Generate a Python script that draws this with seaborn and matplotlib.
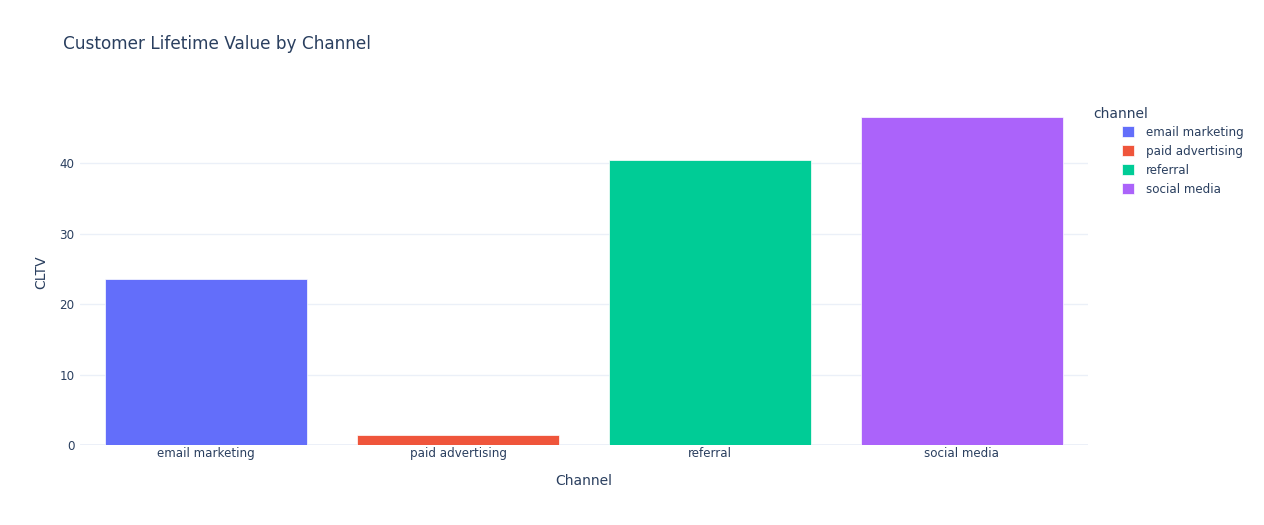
import matplotlib
matplotlib.use("Agg")
import matplotlib.pyplot as plt
import seaborn as sns
import pandas as pd

# values
channels = ['email marketing', 'paid advertising', 'referral', 'social media']
cltv = [23.5, 1.42, 40.5, 46.5]
colors = ['#636efa', '#ef553b', '#00cc96', '#ab63fa']

df = pd.DataFrame({'channel': channels, 'CLTV': cltv})

sns.set_style('white')
plt.rcParams['font.family'] = ['DejaVu Sans']
txt = '#2a3f5f'

fig = plt.figure(figsize=(12.64, 5.25), dpi=100)
ax = fig.add_axes([80/1264, 80/525, 1008/1264, 345/525])

sns.barplot(data=df, x='channel', y='CLTV', hue='channel', palette=colors,
            width=0.8, dodge=False, legend=True, ax=ax, saturation=1,
            edgecolor='white', linewidth=0.5)

ax.set_ylim(0, 48.95)
ax.set_xlim(-0.5, 3.5)
ax.set_yticks([0, 10, 20, 30, 40])
ax.grid(axis='y', color='#ebf0f8', linewidth=1)
ax.set_axisbelow(True)
ax.axhline(0, color='#ebf0f8', linewidth=2, zorder=0)
for s in ax.spines.values():
    s.set_visible(False)
ax.tick_params(axis='y', length=0, colors=txt, labelsize=8.6, pad=4)
ax.tick_params(axis='x', length=0, colors=txt, labelsize=8.6, pad=1.5)
ax.set_xlabel('Channel', color=txt, fontsize=10, labelpad=10)
ax.set_ylabel('CLTV', color=txt, fontsize=10, labelpad=8)

fig.text(63/1264, 1 - 44/525, 'Customer Lifetime Value by Channel',
         color=txt, fontsize=12.2, va='center', ha='left')

# legend title placed on its own, items indented like the reference
fig.text(1093/1264, 1 - 114/525, 'channel', color=txt, fontsize=10,
         va='center', ha='left')
sns.move_legend(ax, 'upper left', bbox_to_anchor=(1122/1264, 1 - 126/525),
                bbox_transform=fig.transFigure, frameon=False, title=None,
                fontsize=8.6, handlelength=1.0, handleheight=1.05,
                labelspacing=0.5, borderaxespad=0, borderpad=0,
                handletextpad=1.0)
for t in ax.get_legend().get_texts():
    t.set_color(txt)

fig.savefig('out.png', dpi=100)
